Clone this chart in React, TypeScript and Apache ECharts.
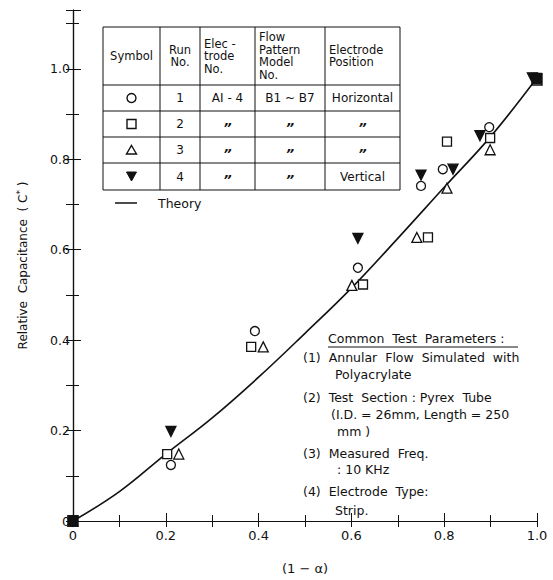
import React, { useEffect, useRef } from "react";
import * as echarts from "echarts";

// ---- data ----
const run1Circle: number[][] = [[0, 0], [0.211, 0.124], [0.392, 0.42], [0.614, 0.56], [0.75, 0.741], [0.797, 0.778], [0.897, 0.871], [1.0, 0.98]];
const run2Square: number[][] = [[0, 0], [0.203, 0.148], [0.384, 0.385], [0.625, 0.523], [0.765, 0.627], [0.806, 0.839], [0.899, 0.847], [1.0, 0.98]];
const run3Triangle: number[][] = [[0, 0], [0.228, 0.148], [0.41, 0.385], [0.601, 0.521], [0.741, 0.627], [0.806, 0.736], [0.899, 0.821], [1.0, 0.975]];
const run4TriDown: number[][] = [[0, 0], [0.211, 0.198], [0.614, 0.625], [0.75, 0.765], [0.819, 0.778], [0.877, 0.852], [0.99, 0.98]];
const overlapPoints: number[][] = [[0, 0], [1.0, 0.978]];
const theory: number[][] = [[0, 0], [0.1, 0.065], [0.2, 0.148], [0.3, 0.228], [0.4, 0.318], [0.5, 0.415], [0.6, 0.515], [0.7, 0.625], [0.8, 0.738], [0.9, 0.85], [1.0, 0.98]];

const xTickLabels = ["0", "0.2", "0.4", "0.6", "0.8", "1.0"];
const yTickLabels = ["0", "0.2", "0.4", "0.6", "0.8", "1.0"];

const headerCols: string[][] = [["Symbol"], ["Run", "No."], ["Elec -", "trode", "No."], ["Flow", "Pattern", "Model", "No."], ["Electrode", "Position"]];
const runNos = ["1", "2", "3", "4"];
const DITTO = "\u201D";
const electrodeNos = ["AI - 4", DITTO, DITTO, DITTO];
const flowModels = ["B1 ~ B7", DITTO, DITTO, DITTO];
const electrodePositions = ["Horizontal", DITTO, DITTO, "Vertical"];
const symbolKinds = ["circle", "square", "triangle", "tridown"];

const noteTitle = "Common  Test  Parameters :";
const noteLines = [
  "(1)  Annular  Flow  Simulated  with",
  "Polyacrylate",
  "(2)  Test  Section : Pyrex  Tube",
  "(I.D. = 26mm, Length = 250",
  "mm )",
  "(3)  Measured  Freq.",
  ": 10 KHz",
  "(4)  Electrode  Type:",
  "Strip.",
];

// ---- layout (not data) ----
const FONT = "DejaVu Sans";
const tableXs = [103, 160, 200, 255, 325, 400];
const tableYs = [27, 85, 111, 137, 163, 190];
const noteX = [303, 335, 303, 331, 337, 303, 337, 303, 335];
const noteY = [357, 374, 397, 414, 431, 453, 469, 491, 510];

function buildGraphics() {
  const els: any[] = [];
  const ln = { stroke: "#111", lineWidth: 1 };
  tableYs.forEach((y) => {
    els.push({ type: "line", shape: { x1: tableXs[0], y1: y, x2: tableXs[tableXs.length - 1], y2: y }, style: ln });
  });
  tableXs.forEach((x) => {
    els.push({ type: "line", shape: { x1: x, y1: tableYs[0], x2: x, y2: tableYs[tableYs.length - 1] }, style: ln });
  });
  const hTop = tableYs[0], hBot = tableYs[1];
  headerCols.forEach((lines, ci) => {
    const x0 = tableXs[ci], x1 = tableXs[ci + 1];
    const lh = 12.5;
    const centered = ci < 2;
    const total = lines.length * lh;
    const startY = (hTop + hBot) / 2 - total / 2 + lh / 2;
    lines.forEach((t, li) => {
      els.push({
        type: "text",
        x: centered ? (x0 + x1) / 2 : x0 + 4,
        y: startY + li * lh,
        style: { text: t, fill: "#111", font: `11.5px "${FONT}"`, align: centered ? "center" : "left", verticalAlign: "middle" },
      });
    });
  });
  for (let r = 0; r < 4; r++) {
    const cy = (tableYs[r + 1] + tableYs[r + 2]) / 2;
    const cx0 = (tableXs[0] + tableXs[1]) / 2;
    const k = symbolKinds[r];
    if (k === "circle") els.push({ type: "circle", shape: { cx: cx0, cy, r: 4.5 }, style: { fill: "none", stroke: "#111", lineWidth: 1.4 } });
    if (k === "square") els.push({ type: "rect", shape: { x: cx0 - 4.5, y: cy - 4.5, width: 9, height: 9 }, style: { fill: "none", stroke: "#111", lineWidth: 1.4 } });
    if (k === "triangle") els.push({ type: "polygon", shape: { points: [[cx0, cy - 4.5], [cx0 + 5, cy + 4], [cx0 - 5, cy + 4]] }, style: { fill: "none", stroke: "#111", lineWidth: 1.4 } });
    if (k === "tridown") els.push({ type: "polygon", shape: { points: [[cx0 - 5, cy - 4.5], [cx0 + 5, cy - 4.5], [cx0, cy + 4.5]] }, style: { fill: "#111", stroke: "#111", lineWidth: 1 } });
    const cells = [runNos[r], electrodeNos[r], flowModels[r], electrodePositions[r]];
    cells.forEach((t, ci) => {
      const x0 = tableXs[ci + 1], x1 = tableXs[ci + 2];
      const ditto = t === DITTO;
      els.push({
        type: "text",
        x: (x0 + x1) / 2,
        y: ditto ? cy + 3 : cy,
        style: { text: t, fill: "#111", font: `${ditto ? "italic bold 13px" : "12px"} "${FONT}"`, align: "center", verticalAlign: "middle" },
      });
    });
  }
  els.push({ type: "line", shape: { x1: 115, y1: 203, x2: 137, y2: 203 }, style: { stroke: "#111", lineWidth: 1.5 } });
  els.push({ type: "text", x: 158, y: 203, style: { text: "Theory", fill: "#111", font: `12.5px "${FONT}"`, verticalAlign: "middle" } });
  els.push({ type: "text", x: 328, y: 338, style: { text: noteTitle, fill: "#111", font: `12.5px "${FONT}"`, verticalAlign: "middle" } });
  els.push({ type: "line", shape: { x1: 328, y1: 347, x2: 518, y2: 347 }, style: { stroke: "#111", lineWidth: 1 } });
  noteLines.forEach((t, i) => {
    els.push({ type: "text", x: noteX[i], y: noteY[i], style: { text: t, fill: "#111", font: `12.5px "${FONT}"`, verticalAlign: "middle" } });
  });
  return els;
}

export default function App() {
  const ref = useRef<HTMLDivElement>(null);
  useEffect(() => {
    if (!ref.current) return;
    const chart = echarts.init(ref.current, null, { renderer: "svg" });
    const labelFmt = (arr: string[]) => (v: number) => {
      const i = Math.round(v / 0.2);
      return Math.abs(v - i * 0.2) < 1e-6 && arr[i] !== undefined ? arr[i] : "";
    };
    const axisCommon = {
      axisLine: { show: true, lineStyle: { color: "#111", width: 1.2 } },
      splitLine: { show: false },
    };
    const mk = (symbol: string, filled: boolean, rotate = 0) => ({
      symbol,
      symbolSize: symbol === "triangle" ? 10 : 9,
      symbolRotate: rotate,
      itemStyle: { color: filled ? "#111" : "#fff", borderColor: "#111", borderWidth: 1.3, opacity: 1 },
    });
    chart.setOption({
      animation: false,
      backgroundColor: "#fff",
      textStyle: { fontFamily: FONT },
      grid: { left: 73, top: 10, width: 464, height: 519, containLabel: false },
      xAxis: [
        {
          type: "value", min: 0, max: 1, interval: 0.2, position: "bottom",
          ...axisCommon,
          axisTick: { show: true, inside: true, length: 8, lineStyle: { color: "#111" } },
          minorTick: { show: true, splitNumber: 2, length: 6, lineStyle: { color: "#111" } },
          axisLabel: { formatter: labelFmt(xTickLabels), color: "#111", fontSize: 13, margin: 8, fontFamily: FONT },
          name: "(1 \u2212 \u03b1)", nameLocation: "middle", nameGap: 41,
          nameTextStyle: { color: "#111", fontSize: 13, fontFamily: FONT },
        },
        {
          type: "value", min: 0, max: 1, interval: 0.1, position: "top",
          ...axisCommon,
          axisTick: { show: true, inside: true, length: 6, lineStyle: { color: "#111" } },
          axisLabel: { show: false },
        },
      ],
      yAxis: [
        {
          type: "value", min: 0, max: 1.13, interval: 0.2, position: "left",
          ...axisCommon,
          axisTick: { show: true, inside: true, length: 8, lineStyle: { color: "#111" } },
          minorTick: { show: true, splitNumber: 2, length: 6, lineStyle: { color: "#111" } },
          axisLabel: { formatter: labelFmt(yTickLabels), color: "#111", fontSize: 12.5, margin: 3, fontFamily: FONT, showMaxLabel: false },
          name: "Relative  Capacitance  ( C{sup|*} )", nameLocation: "middle", nameGap: 43, nameRotate: 90,
          nameTextStyle: { color: "#111", fontSize: 12, fontFamily: FONT, rich: { sup: { fontSize: 9, verticalAlign: "top", padding: [0, 0, 6, 0], fontFamily: FONT, color: "#111" } } },
        },
        {
          type: "value", min: 0, max: 1.13, interval: 0.1, position: "right",
          ...axisCommon,
          axisTick: { show: true, inside: true, length: 7, lineStyle: { color: "#111" } },
          axisLabel: { show: false },
        },
      ],
      series: [
        { type: "line", name: "Theory", data: theory, smooth: 0.4, showSymbol: false, symbol: "none", lineStyle: { color: "#111", width: 1.6 }, z: 1 },
        { type: "scatter", name: "Run 1", data: run1Circle, ...mk("circle", false), z: 3 },
        { type: "scatter", name: "Run 2", data: run2Square, ...mk("rect", false), z: 3 },
        { type: "scatter", name: "Run 3", data: run3Triangle, ...mk("triangle", false), z: 3 },
        { type: "scatter", name: "Run 4", data: run4TriDown, ...mk("triangle", true, 180), z: 4 },
        { type: "scatter", name: "Overlap", data: overlapPoints, ...mk("rect", true), symbolSize: 10, z: 5 },
      ],
      graphic: buildGraphics(),
    });
    return () => chart.dispose();
  }, []);
  return <div ref={ref} style={{ position: "fixed", left: 0, top: 0, width: 553, height: 580, background: "#fff" }} />;
}
